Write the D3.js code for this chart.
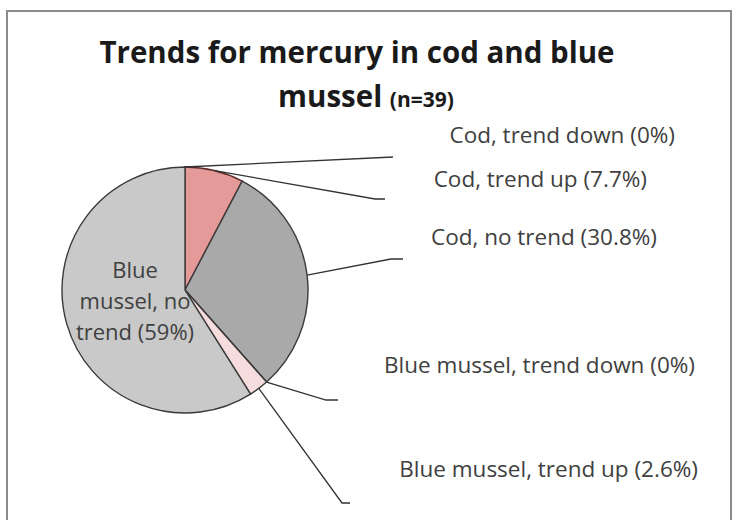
<!DOCTYPE html>
<html>
<head>
<meta charset="utf-8">
<script src="https://cdn.jsdelivr.net/npm/d3@7"></script>
<style>
  body { margin: 0; background: #fff; }
  svg { display: block; font-family: "Open Sans", Lato, sans-serif; }
</style>
</head>
<body>
<svg id="chart" width="738" height="520"></svg>
<script>
// data
const categories = [
    'Cod, trend down',
    'Cod, trend up',
    'Cod, no trend',
    'Blue mussel, trend down',
    'Blue mussel, trend up',
    'Blue mussel, no trend'
];
const percents = [0, 7.7, 30.8, 0, 2.6, 59];
const percentLabels = ['0%', '7.7%', '30.8%', '0%', '2.6%', '59%'];
const colors = ['#a0a0a0', '#e39a99', '#a9a9a9', '#c9c9c9', '#f6dcdc', '#c9c9c9'];

// label layout (outside labels), last one is drawn inside the pie
const labelPos = [
    { x: 675, y: 143, lx: 393, ly: 157, tail: 0 },
    { x: 647, y: 187, lx: 385, ly: 199, tail: 10 },
    { x: 657, y: 245, lx: 403, ly: 259, tail: 12 },
    { x: 695, y: 373, lx: 338, ly: 400, tail: 12 },
    { x: 698, y: 477, lx: 350, ly: 503, tail: 8 }
];

const svg = d3.select('#chart');

// outer border
svg.append('rect')
    .attr('x', 7).attr('y', 11)
    .attr('width', 724).attr('height', 530)
    .attr('fill', 'none')
    .attr('stroke', '#8c8c8c')
    .attr('stroke-width', 2);

// title
const title = svg.append('text')
    .attr('text-anchor', 'middle')
    .attr('fill', '#1a1a1a')
    .attr('font-weight', 'bold');
title.append('tspan').attr('x', 357).attr('y', 63).attr('font-size', 29.5)
    .text('Trends for mercury in cod and blue');
const t2 = title.append('tspan').attr('x', 366).attr('y', 107);
t2.append('tspan').attr('font-size', 29.5).text('mussel ');
t2.append('tspan').attr('font-size', 21).text('(n=39)');

const cx = 185, cy = 290, r = 123;

const pie = d3.pie().sort(null).value(d => d)(percents);
const arc = d3.arc().innerRadius(0).outerRadius(r);

const g = svg.append('g').attr('transform', `translate(${cx},${cy})`);

g.selectAll('path.slice')
    .data(pie)
    .enter().append('path')
    .attr('class', 'slice')
    .attr('d', arc)
    .attr('fill', (d, i) => colors[i])
    .attr('stroke', (d, i) => i === 1 ? '#5a2a2a' : '#3a3a3a')
    .attr('stroke-width', 1.4);

// leader lines + outside labels
const outside = pie.slice(0, 5);
outside.forEach((d, i) => {
    const a = (d.startAngle + d.endAngle) / 2;
    const sx = cx + r * Math.sin(a);
    const sy = cy - r * Math.cos(a);
    const p = labelPos[i];
    const pts = [[sx, sy], [p.lx - p.tail, p.ly], [p.lx, p.ly]];
    svg.append('path')
        .attr('d', d3.line()(pts))
        .attr('fill', 'none')
        .attr('stroke', '#333')
        .attr('stroke-width', 1.3);
    svg.append('text')
        .attr('x', p.x).attr('y', p.y)
        .attr('text-anchor', 'end')
        .attr('font-size', 22.5)
        .attr('fill', '#404040')
        .text(`${categories[i]} (${percentLabels[i]})`);
});

// inside label for the big slice
const inside = svg.append('text')
    .attr('text-anchor', 'middle')
    .attr('font-size', 22)
    .attr('fill', '#404040');
['Blue', 'mussel, no', `trend (${percentLabels[5]})`].forEach((line, k) => {
    inside.append('tspan').attr('x', 135).attr('y', 278 + k * 31).text(line);
});
</script>
</body>
</html>
